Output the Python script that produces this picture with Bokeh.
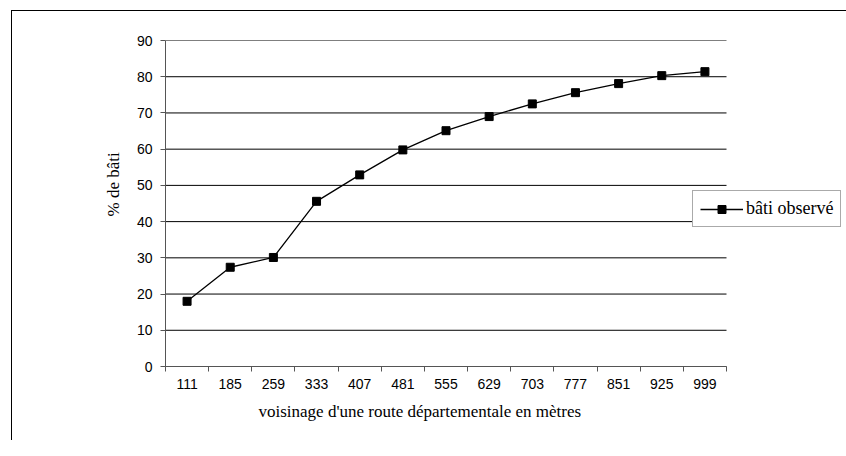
from bokeh.plotting import figure
from bokeh.models import Range1d, FixedTicker, Legend, LegendItem, Title
from bokeh.embed import file_html
from bokeh.resources import INLINE

categories = ["111", "185", "259", "333", "407", "481", "555", "629", "703", "777", "851", "925", "999"]
bati_observe = [18.0, 27.4, 30.1, 45.6, 52.9, 59.8, 65.1, 69.0, 72.5, 75.6, 78.1, 80.3, 81.4]
y_ticks = [0, 10, 20, 30, 40, 50, 60, 70, 80, 90]

n = len(categories)
xs = [i + 0.5 for i in range(n)]

# plot area of the categories is 561 px wide; the frame reaches the right edge of the picture
cat_px = 561
frame_w = 681
x_end = n * frame_w / cat_px

p = figure(width=846, height=440, output_backend="svg", toolbar_location=None,
           x_range=Range1d(0, x_end), y_range=Range1d(0, 90),
           min_border_left=165, min_border_right=0, min_border_top=40, min_border_bottom=74)
p.frame_width = frame_w
p.frame_height = 326
p.outline_line_color = None
p.border_fill_color = None
p.background_fill_color = "white"
p.styles = {"box-shadow": "inset 11px 10px 0 0 white, inset 12px 11px 0 0 black"}

# horizontal grid lines limited to the category area
p.segment(x0=[0] * len(y_ticks), x1=[n] * len(y_ticks), y0=y_ticks, y1=y_ticks,
          line_color="black", line_width=1)

line = p.line(xs, bati_observe, line_color="black", line_width=1.3)
pts = p.scatter(xs, bati_observe, marker="square", size=8, fill_color="black", line_color="black")

# x axis
xax = p.xaxis[0]
xax.bounds = (0, n)
xax.ticker = FixedTicker(ticks=xs, minor_ticks=list(range(n + 1)))
xax.major_label_overrides = {x: c for x, c in zip(xs, categories)}
xax.major_tick_out = 0
xax.major_tick_in = 0
xax.minor_tick_out = 5
xax.minor_tick_in = 0
xax.minor_tick_line_color = "#555555"
xax.axis_line_color = "#555555"
xax.major_label_standoff = 7
xax.major_label_text_font = "Liberation Sans"
xax.major_label_text_font_size = "14px"
xax.major_label_text_color = "black"

# y axis
yax = p.yaxis[0]
yax.ticker = FixedTicker(ticks=y_ticks, minor_ticks=[])
yax.major_tick_out = 5
yax.major_tick_in = 0
yax.major_tick_line_color = "#555555"
yax.axis_line_color = "#555555"
yax.major_label_standoff = 8
yax.major_label_text_font = "Liberation Sans"
yax.major_label_text_font_size = "14px"
yax.major_label_text_color = "black"

p.xgrid.grid_line_color = None
p.ygrid.grid_line_color = None

xtitle = Title(text="voisinage d'une route départementale en mètres", align="left", offset=93,
               text_font="Liberation Serif", text_font_style="normal", text_font_size="17px",
               text_color="black", standoff=16)
p.add_layout(xtitle, "below")

ytitle = Title(text="% de bâti", align="left", offset=150,
               text_font="Liberation Serif", text_font_style="normal", text_font_size="17px",
               text_color="black", standoff=22)
p.add_layout(ytitle, "left")

legend = Legend(items=[LegendItem(label="bâti observé", renderers=[line, pts])],
                location=(527, 139), orientation="vertical")
legend.label_text_font = "Liberation Serif"
legend.label_text_font_size = "18px"
legend.label_text_color = "black"
legend.glyph_width = 43
legend.glyph_height = 20
legend.label_standoff = 3
legend.padding = 7
legend.spacing = 0
legend.margin = 0
legend.border_line_color = "#555555"
legend.border_line_width = 1
legend.background_fill_color = "white"
legend.background_fill_alpha = 1
p.add_layout(legend, "center")

open("out.html", "w").write(file_html(p, INLINE))
